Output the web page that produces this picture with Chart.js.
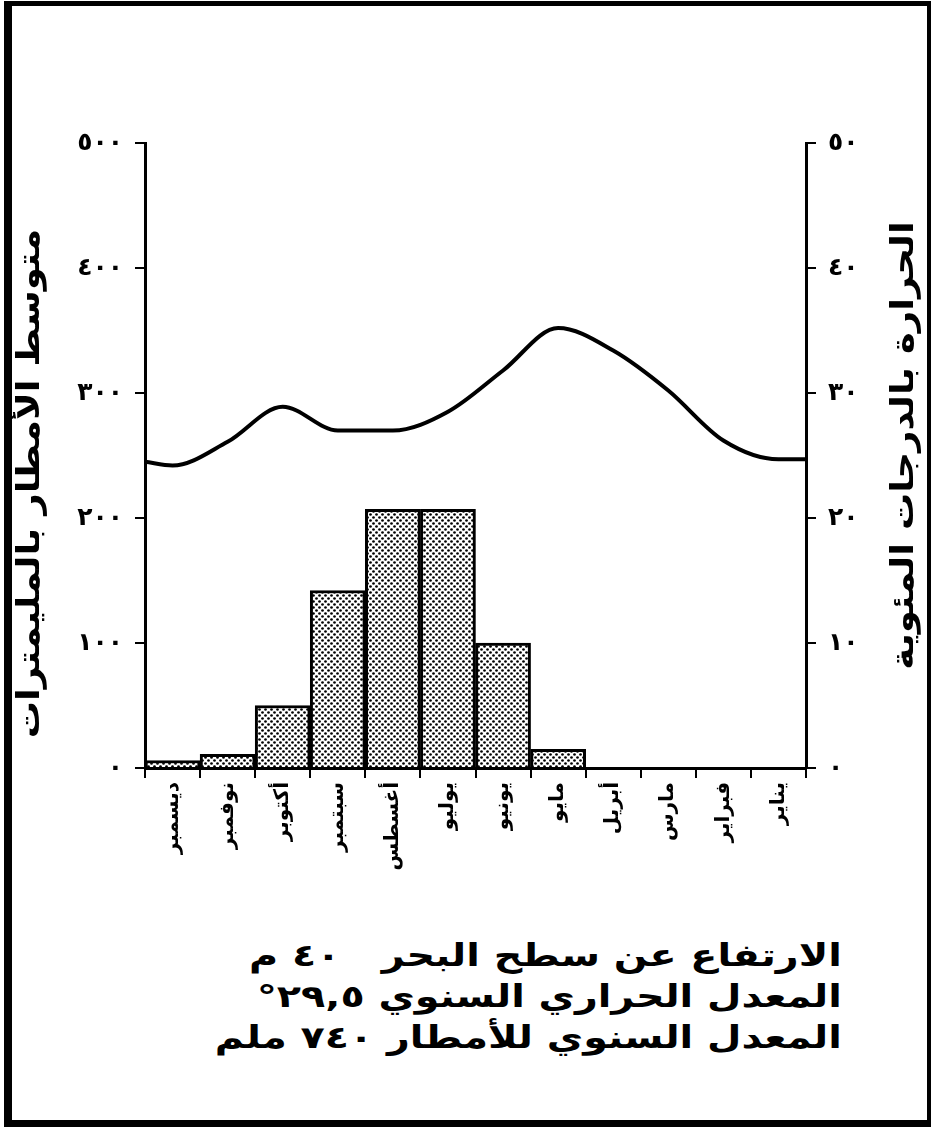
<!DOCTYPE html>
<html lang="ar">
<head>
<meta charset="utf-8">
<title>مناخ</title>
<script src="https://cdn.jsdelivr.net/npm/chart.js@4"></script>
<style>
  body { margin: 0; background: #fff; }
  #wrap { position: relative; width: 932px; height: 1129px; }
  #frame {
    position: absolute; left: 4px; top: 1px; width: 927px; height: 1126px;
    box-sizing: border-box;
    border-style: solid; border-color: #000;
    border-width: 5px 4px 7px 8px;
  }
  #myChart { position: absolute; left: 0; top: 0; }
  #notes {
    position: absolute; right: 90px; top: 935px;
    direction: rtl; text-align: right;
    font-family: "DejaVu Sans", sans-serif; font-weight: bold;
    font-size: 31px; line-height: 41px; color: #000;
    white-space: pre;
    transform: scaleX(1.28); transform-origin: right top;
  }
</style>
</head>
<body>
<div id="wrap">
  <div id="frame"></div>
  <canvas id="myChart" width="932" height="900"></canvas>
  <div id="notes"></div>
</div>
<script>
// months, January first (axis is reversed so January sits on the right)
const months = ['يناير', 'فبراير', 'مارس', 'أبريل', 'مايو', 'يونيو',
  'يوليو', 'أغسطس', 'سبتمبر', 'أكتوبر', 'نوفمبر', 'ديسمبر'];

// rainfall in mm
const rainValues = [0, 0, 0, 0, 15, 100, 207, 207, 142, 50, 11, 6];

// temperature in degrees, read at the middle of each month
const tempValues = [24.7, 26.2, 30.2, 33.4, 35.2, 31.8, 28.5, 27.0, 27.0, 28.9, 26.1, 24.2];
// temperature where the curve meets the right (January) and left (December) axis
const tempEdges = [24.7, 24.5];

const rainTickLabels = ['٠', '١٠٠', '٢٠٠', '٣٠٠', '٤٠٠', '٥٠٠'];
const tempTickLabels = ['٠', '١٠', '٢٠', '٣٠', '٤٠', '٥٠'];

const rainTitle = 'متوسط الأمطار بالمليمترات';
const tempTitle = 'الحرارة بالدرجات المئوية';

const notes = [
  'الارتفاع عن سطح البحر   ٤٠ م',
  'المعدل الحراري السنوي ٢٩,٥°',
  'المعدل السنوي للأمطار ٧٤٠ ملم'
];
document.getElementById('notes').textContent = notes.join('\n');

const font = 'DejaVu Sans';

// dotted fill like the printed screen
function dotPattern() {
  let c = document.createElement('canvas');
  c.width = 6; c.height = 6;
  let g = c.getContext('2d');
  g.fillStyle = '#fff';
  g.fillRect(0, 0, 6, 6);
  g.fillStyle = '#000';
  [[1.5, 1.5], [4.5, 4.5]].forEach(p => {
    g.beginPath();
    g.arc(p[0], p[1], 1.35, 0, Math.PI * 2);
    g.fill();
  });
  return g.createPattern(c, 'repeat');
}

// temperature points on a 0..12 month scale
let tempPoints = [{ x: 0, y: tempEdges[0] }];
tempValues.forEach((v, i) => tempPoints.push({ x: i + 0.5, y: v }));
tempPoints.push({ x: 12, y: tempEdges[1] });

// both axis titles read top to bottom, drawn by hand
function drawTitle(ctx, text, x, y) {
  ctx.save();
  ctx.translate(x, y);
  ctx.rotate(-Math.PI / 2);
  ctx.scale(1.2, 1);
  ctx.font = 'bold 31px "' + font + '"';
  ctx.fillStyle = '#000';
  ctx.textAlign = 'center';
  ctx.textBaseline = 'middle';
  ctx.fillText(text, 0, 0);
  ctx.restore();
}

const axisTitles = {
  id: 'axisTitles',
  afterDraw(chart) {
    const area = chart.chartArea;
    const mid = (area.top + area.bottom) / 2;
    drawTitle(chart.ctx, rainTitle, area.left - 114, mid + 28);
    drawTitle(chart.ctx, tempTitle, area.right + 99, mid - 10);
  }
};

const tickGrid = {
  drawOnChartArea: false,
  color: '#000',
  lineWidth: 2,
  tickLength: 10
};

const config = {
  type: 'bar',
  data: {
    labels: months,
    datasets: [{
      type: 'line',
      label: 'الحرارة',
      data: tempPoints,
      xAxisID: 'x2',
      yAxisID: 'y2',
      borderColor: '#000',
      borderWidth: 4,
      pointRadius: 0,
      fill: false,
      cubicInterpolationMode: 'monotone'
    }, {
      label: 'الأمطار',
      data: rainValues,
      xAxisID: 'x',
      yAxisID: 'y',
      backgroundColor: dotPattern(),
      borderColor: '#000',
      borderWidth: 3,
      borderSkipped: 'bottom',
      grouped: false,
      barPercentage: 1,
      categoryPercentage: 1
    }]
  },
  options: {
    responsive: false,
    animation: false,
    layout: { padding: { top: 143, left: 0, right: 0, bottom: 0 } },
    plugins: { legend: { display: false }, tooltip: { enabled: false } },
    scales: {
      x: {
        reverse: true,
        border: { color: '#000', width: 3 },
        grid: { ...tickGrid, offset: true },
        ticks: {
          autoSkip: false, minRotation: 90, maxRotation: 90,
          color: '#000', padding: 4,
          font: { family: font, size: 20, weight: 'bold' }
        },
        afterFit: s => { s.height = 132; }
      },
      x2: {
        type: 'linear', display: false, reverse: true,
        offset: false, min: 0, max: 12
      },
      y: {
        position: 'left',
        min: 0, max: 500,
        border: { color: '#000', width: 3 },
        grid: tickGrid,
        ticks: {
          stepSize: 100, color: '#000', padding: 12,
          font: { family: font, size: 25, weight: 'bold' },
          callback: (v, i) => rainTickLabels[i]
        },
        afterFit: s => { s.width = 145; }
      },
      y2: {
        position: 'right',
        min: 0, max: 50,
        border: { color: '#000', width: 3 },
        grid: tickGrid,
        ticks: {
          stepSize: 10, color: '#000', padding: 12,
          font: { family: font, size: 25, weight: 'bold' },
          callback: (v, i) => tempTickLabels[i]
        },
        afterFit: s => { s.width = 126; }
      }
    }
  },
  plugins: [axisTitles]
};

const myChart = new Chart(document.getElementById('myChart'), config);
</script>
</body>
</html>
